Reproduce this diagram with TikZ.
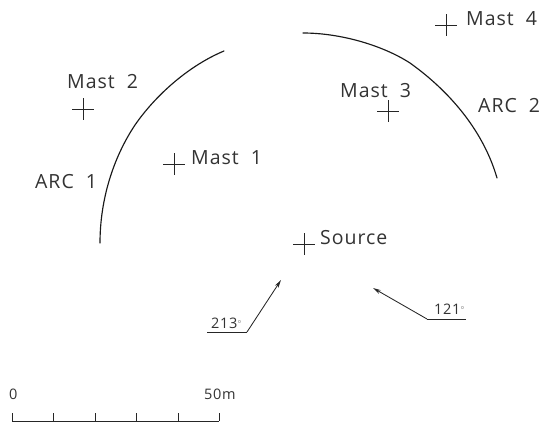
\documentclass[tikz,border=0pt]{standalone}
\usepackage{fontspec}
\setmainfont[LetterSpace=5]{Open Sans}
\usetikzlibrary{arrows.meta,calc}
\tikzset{
  x=1pt,y=-1pt,
  line/.style={line width=0.95pt,black!85},
  arcline/.style={line width=1.15pt,black!90,line cap=round},
  lab/.style={inner sep=0pt,font=\fontsize{19.5}{22}\selectfont,text=black!80},
  small/.style={inner sep=0pt,font=\fontsize{14.5}{16}\selectfont,text=black!80},
  tip/.style={line width=0.85pt,black!85,-{Stealth[length=8pt,width=4pt]}}
}
\newcommand{\crossat}[2]{\draw[line] ($(#1,#2)+(-11,0)$) -- ++(22,0) ($(#1,#2)+(0,-11)$) -- ++(0,22);}
\begin{document}
\begin{tikzpicture}
\useasboundingbox (0,0) rectangle (548,423);
% arcs
\draw[arcline] (100,243) .. controls (100,200) and (113,158) .. (135,125) .. controls (155,96) and (188,66) .. (224,51);
\draw[arcline] (303,33) .. controls (340,33) and (382,45) .. (410,63) .. controls (452,93) and (484,133) .. (497,178);
% crosses
\crossat{83}{109}
\crossat{174}{164}
\crossat{388}{111}
\crossat{446}{25}
\crossat{304}{244}
% labels
\node[lab,anchor=base west] (m2) at (67,88) {Mast\ \ 2};
\node[lab,anchor=base west] (m1) at (191,164) {Mast\ \ 1};
\node[lab,anchor=base west] (m3) at (340,97) {Mast\ \ 3};
\node[lab,anchor=base west] (m4) at (466,25) {Mast\ \ 4};
\node[lab,anchor=base west] (a1) at (35,188) {ARC\ \ 1};
\node[lab,anchor=base west] (a2) at (478,112) {ARC\ \ 2};
\node[lab,anchor=base west] (src) at (320,244) {Source};
% wind arrows
\coordinate (w1) at (207,332);
\coordinate (w2) at (247,332);
\coordinate (w3) at (281,280);
\draw[line] (w1) -- (w2);
\draw[tip] (w2) -- (w3);
\node[small,anchor=base west] (d1) at (211,328) {213\raisebox{5pt}{\fontsize{6}{6}\selectfont$\circ$}};
\coordinate (e1) at (466,319);
\coordinate (e2) at (427,319);
\coordinate (e3) at (373,288);
\draw[line] (e1) -- (e2);
\draw[tip] (e2) -- (e3);
\node[small,anchor=base west] (d2) at (434,314) {121\raisebox{5pt}{\fontsize{6}{6}\selectfont$\circ$}};
% scale
\node[small,anchor=base west] (s0) at (9,399) {0};
\node[small,anchor=base west] (s1) at (204,399) {50m};
\coordinate (b0) at (12,421);
\coordinate (b1) at (219,421);
\draw[line] (b0) -- (b1);
\foreach \xx in {12,53,95,136,178,219} \draw[line] (\xx,413) -- (\xx,421);
\end{tikzpicture}
\end{document}
